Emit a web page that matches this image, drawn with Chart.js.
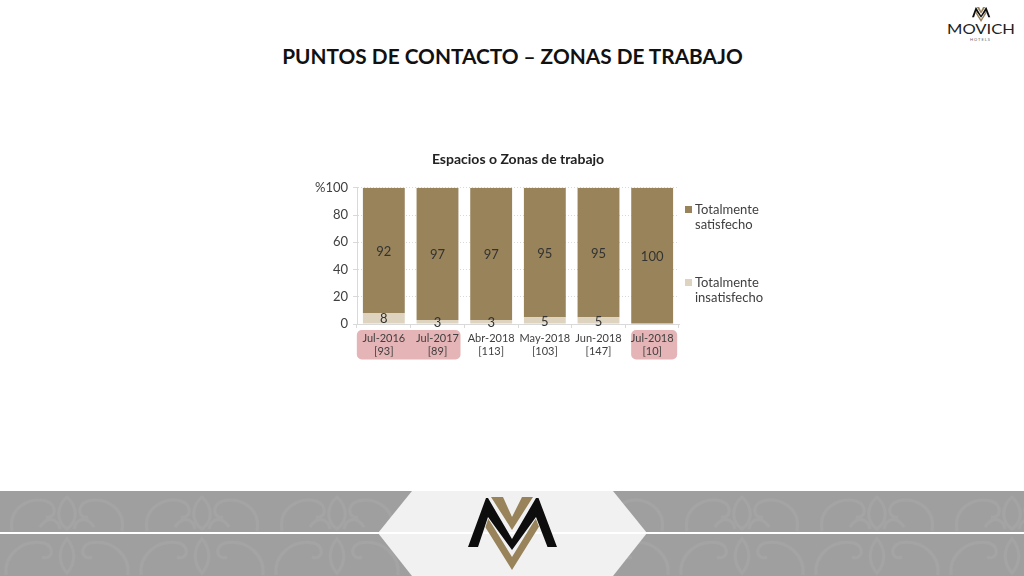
<!DOCTYPE html>
<html lang="es">
<head>
<meta charset="utf-8">
<title>Puntos de contacto</title>
<script src="https://cdn.jsdelivr.net/npm/chart.js@4/dist/chart.umd.min.js"></script>
<style>
    html, body { margin:0; padding:0; background:#fff; }
    body { position:relative; width:1024px; height:576px; overflow:hidden; font-family:Lato,sans-serif; color:#262626; }
    h1 { position:absolute; left:0; top:41px; width:1025px; margin:0; text-align:center; font:700 20.800px/30px Lato,sans-serif; color:#111; white-space:nowrap; }
    #wrap { position:absolute; left:298px; top:145px; width:440px; height:225px; }
    #legend { position:absolute; left:685px; top:0; font-size:13px; line-height:15px; color:#404040; }
    #legend div { position:absolute; white-space:pre; padding-left:10px; }
    #legend i { position:absolute; left:0; top:4px; width:7px; height:7px; }
    #banner, #brand { position:absolute; }
    #banner { left:0; top:491px; }
    #brand { left:944px; top:4px; width:72px; }
</style>
</head>
<body>
<h1>PUNTOS DE CONTACTO – ZONAS DE TRABAJO</h1>

<div id="wrap"><canvas id="chart" width="440" height="225"></canvas></div>
<div id="legend"></div>

<svg id="brand" width="72" height="38" viewBox="0 0 72 38">
    <g transform="translate(28 3) scale(.205) translate(-468 -6)">
        <use href="#mark"/>
    </g>
    <text x="3" y="30" textLength="68" lengthAdjust="spacingAndGlyphs" font-family="Lato" font-size="13" fill="#222">MOVICH</text>
    <text x="26" y="36.500" textLength="20" font-family="Lato" font-size="4" fill="#666">HOTELS</text>
</svg>

<svg id="banner" width="1024" height="85" viewBox="0 0 1024 85">
    <defs>
        <g id="mark">
            <path d="M491 6h12L512 26 522 6h11L512 39z" fill="#98835a"/>
            <path d="M484 34L512 79 540 34 536 27 512 66 488 27z" fill="#98835a"/>
            <path d="M468 56L486 7h2L512 48 536 7h2.500L557 56h-9.500L536 26 512 59 488 26 478 56z" fill="#0d0d0d" stroke="#f1f1f2" stroke-width="1.500" paint-order="stroke"/>
        </g>
        <pattern id="damask" width="135" height="85" patternUnits="userSpaceOnUse">
            <g fill="none" stroke="#a4a4a4" stroke-width="3">
                <path d="M12 40C8 16 30 6 46 10 58 14 56 28 46 26M122 40C126 16 104 6 88 10 76 14 78 28 88 26"/>
                <path d="M67 6C56 16 56 30 67 38 78 30 78 16 67 6zM40 36C48 24 58 28 60 38M94 36C86 24 76 28 74 38"/>
                <path d="M6 84C4 64 22 48 44 52 56 56 52 70 42 66M128 84C130 64 112 48 90 52 78 56 82 70 92 66"/>
                <path d="M67 48C58 58 58 72 67 82 76 72 76 58 67 48z"/>
            </g>
        </pattern>
    </defs>
    <rect width="1024" height="85" fill="#9f9f9f"/>
    <rect width="1024" height="85" fill="url(#damask)"/>
    <path d="M412 0H613L647 42 613 85H412L378 42z" fill="#f1f1f2"/>
    <rect y="41" width="1024" height="2" fill="#fff"/>
    <use href="#mark"/>
</svg>

<script>
const categories = [['Jul-2016', '[93]'], ['Jul-2017', '[89]'], ['Abr-2018', '[113]'], ['May-2018', '[103]'], ['Jun-2018', '[147]'], ['Jul-2018', '[10]']];
const insatisfecho = [8, 3, 3, 5, 5, 0];
const satisfecho = [92, 97, 97, 95, 95, 100];
const yTickLabels = { 0: '0', 20: '20', 40: '40', 60: '60', 80: '80', 100: '%100' };

const GOLD = '#98835a';
const SAND = '#ddd3bf';
const FONT = 'Lato';

// fondo rosa detras de las etiquetas del eje x: [desde, hasta, margen izq, margen der]
const labelBoxes = {
    id: 'labelBoxes',
    beforeDraw(chart) {
        const { ctx, scales: { x } } = chart;
        ctx.save();
        ctx.fillStyle = '#e5b4b6';
        [[0, 1, 27, 23], [5, 5, 21, 25]].forEach(([a, b, l, r]) => {
            const x0 = x.getPixelForValue(a) - l;
            const x1 = x.getPixelForValue(b) + r;
            ctx.beginPath();
            ctx.roundRect(x0, 185, x1 - x0, 29.5, 5);
            ctx.fill();
        });
        ctx.restore();
    }
};

// valores dentro de cada segmento
const barValues = {
    id: 'barValues',
    afterDatasetsDraw(chart) {
        const { ctx } = chart;
        ctx.save();
        ctx.font = '13px ' + FONT;
        ctx.fillStyle = '#333';
        ctx.textAlign = 'center';
        ctx.textBaseline = 'middle';
        chart.data.datasets.forEach((ds, i) => {
            chart.getDatasetMeta(i).data.forEach((bar, j) => {
                if (!ds.data[j]) return;
                ctx.fillText(ds.data[j], bar.x, (bar.y + bar.base) / 2 + 1);
            });
        });
        ctx.restore();
    }
};

new Chart(document.getElementById('chart'), {
    type: 'bar',
    data: {
        labels: categories,
        datasets: [
            { label: 'Totalmente\ninsatisfecho', data: insatisfecho, backgroundColor: SAND, categoryPercentage: 1, barPercentage: 0.78 },
            { label: 'Totalmente\nsatisfecho', data: satisfecho, backgroundColor: GOLD, categoryPercentage: 1, barPercentage: 0.78 }
        ]
    },
    options: {
        responsive: false,
        animation: false,
        layout: { padding: { left: 0, right: 59, top: 0, bottom: 0 } },
        plugins: {
            legend: { display: false },
            tooltip: { enabled: false },
            title: {
                display: true,
                fullSize: false,
                text: 'Espacios o Zonas de trabajo',
                color: '#222',
                font: { family: FONT, size: 14, weight: '700' },
                padding: { top: 6, bottom: 20 }
            }
        },
        scales: {
            x: {
                stacked: true,
                grid: { drawOnChartArea: false, color: '#d9d9d9', tickLength: 4 },
                border: { color: '#d9d9d9' },
                ticks: { color: '#404040', font: { family: FONT, size: 11 }, padding: 4, maxRotation: 0, autoSkip: false },
                afterFit(s) { s.height = 46; }
            },
            y: {
                stacked: true,
                min: 0,
                max: 100,
                grid: { color: '#d9d9d9', tickLength: 4 },
                border: { color: '#d9d9d9', dash: [1, 2] },
                ticks: { stepSize: 20, color: '#404040', font: { family: FONT, size: 13 }, padding: 5, callback: v => yTickLabels[v] },
                afterFit(s) { s.width = 59; }
            }
        }
    },
    plugins: [labelBoxes, barValues]
});

// leyenda en html porque las etiquetas van en dos lineas
const legendEl = document.getElementById('legend');
[[GOLD, 'Totalmente\nsatisfecho', 202], [SAND, 'Totalmente\ninsatisfecho', 275]].forEach(([color, text, top]) => {
    const row = document.createElement('div');
    row.style.top = top + 'px';
    row.textContent = text;
    const box = document.createElement('i');
    box.style.background = color;
    row.prepend(box);
    legendEl.appendChild(row);
});
</script>
</body>
</html>
